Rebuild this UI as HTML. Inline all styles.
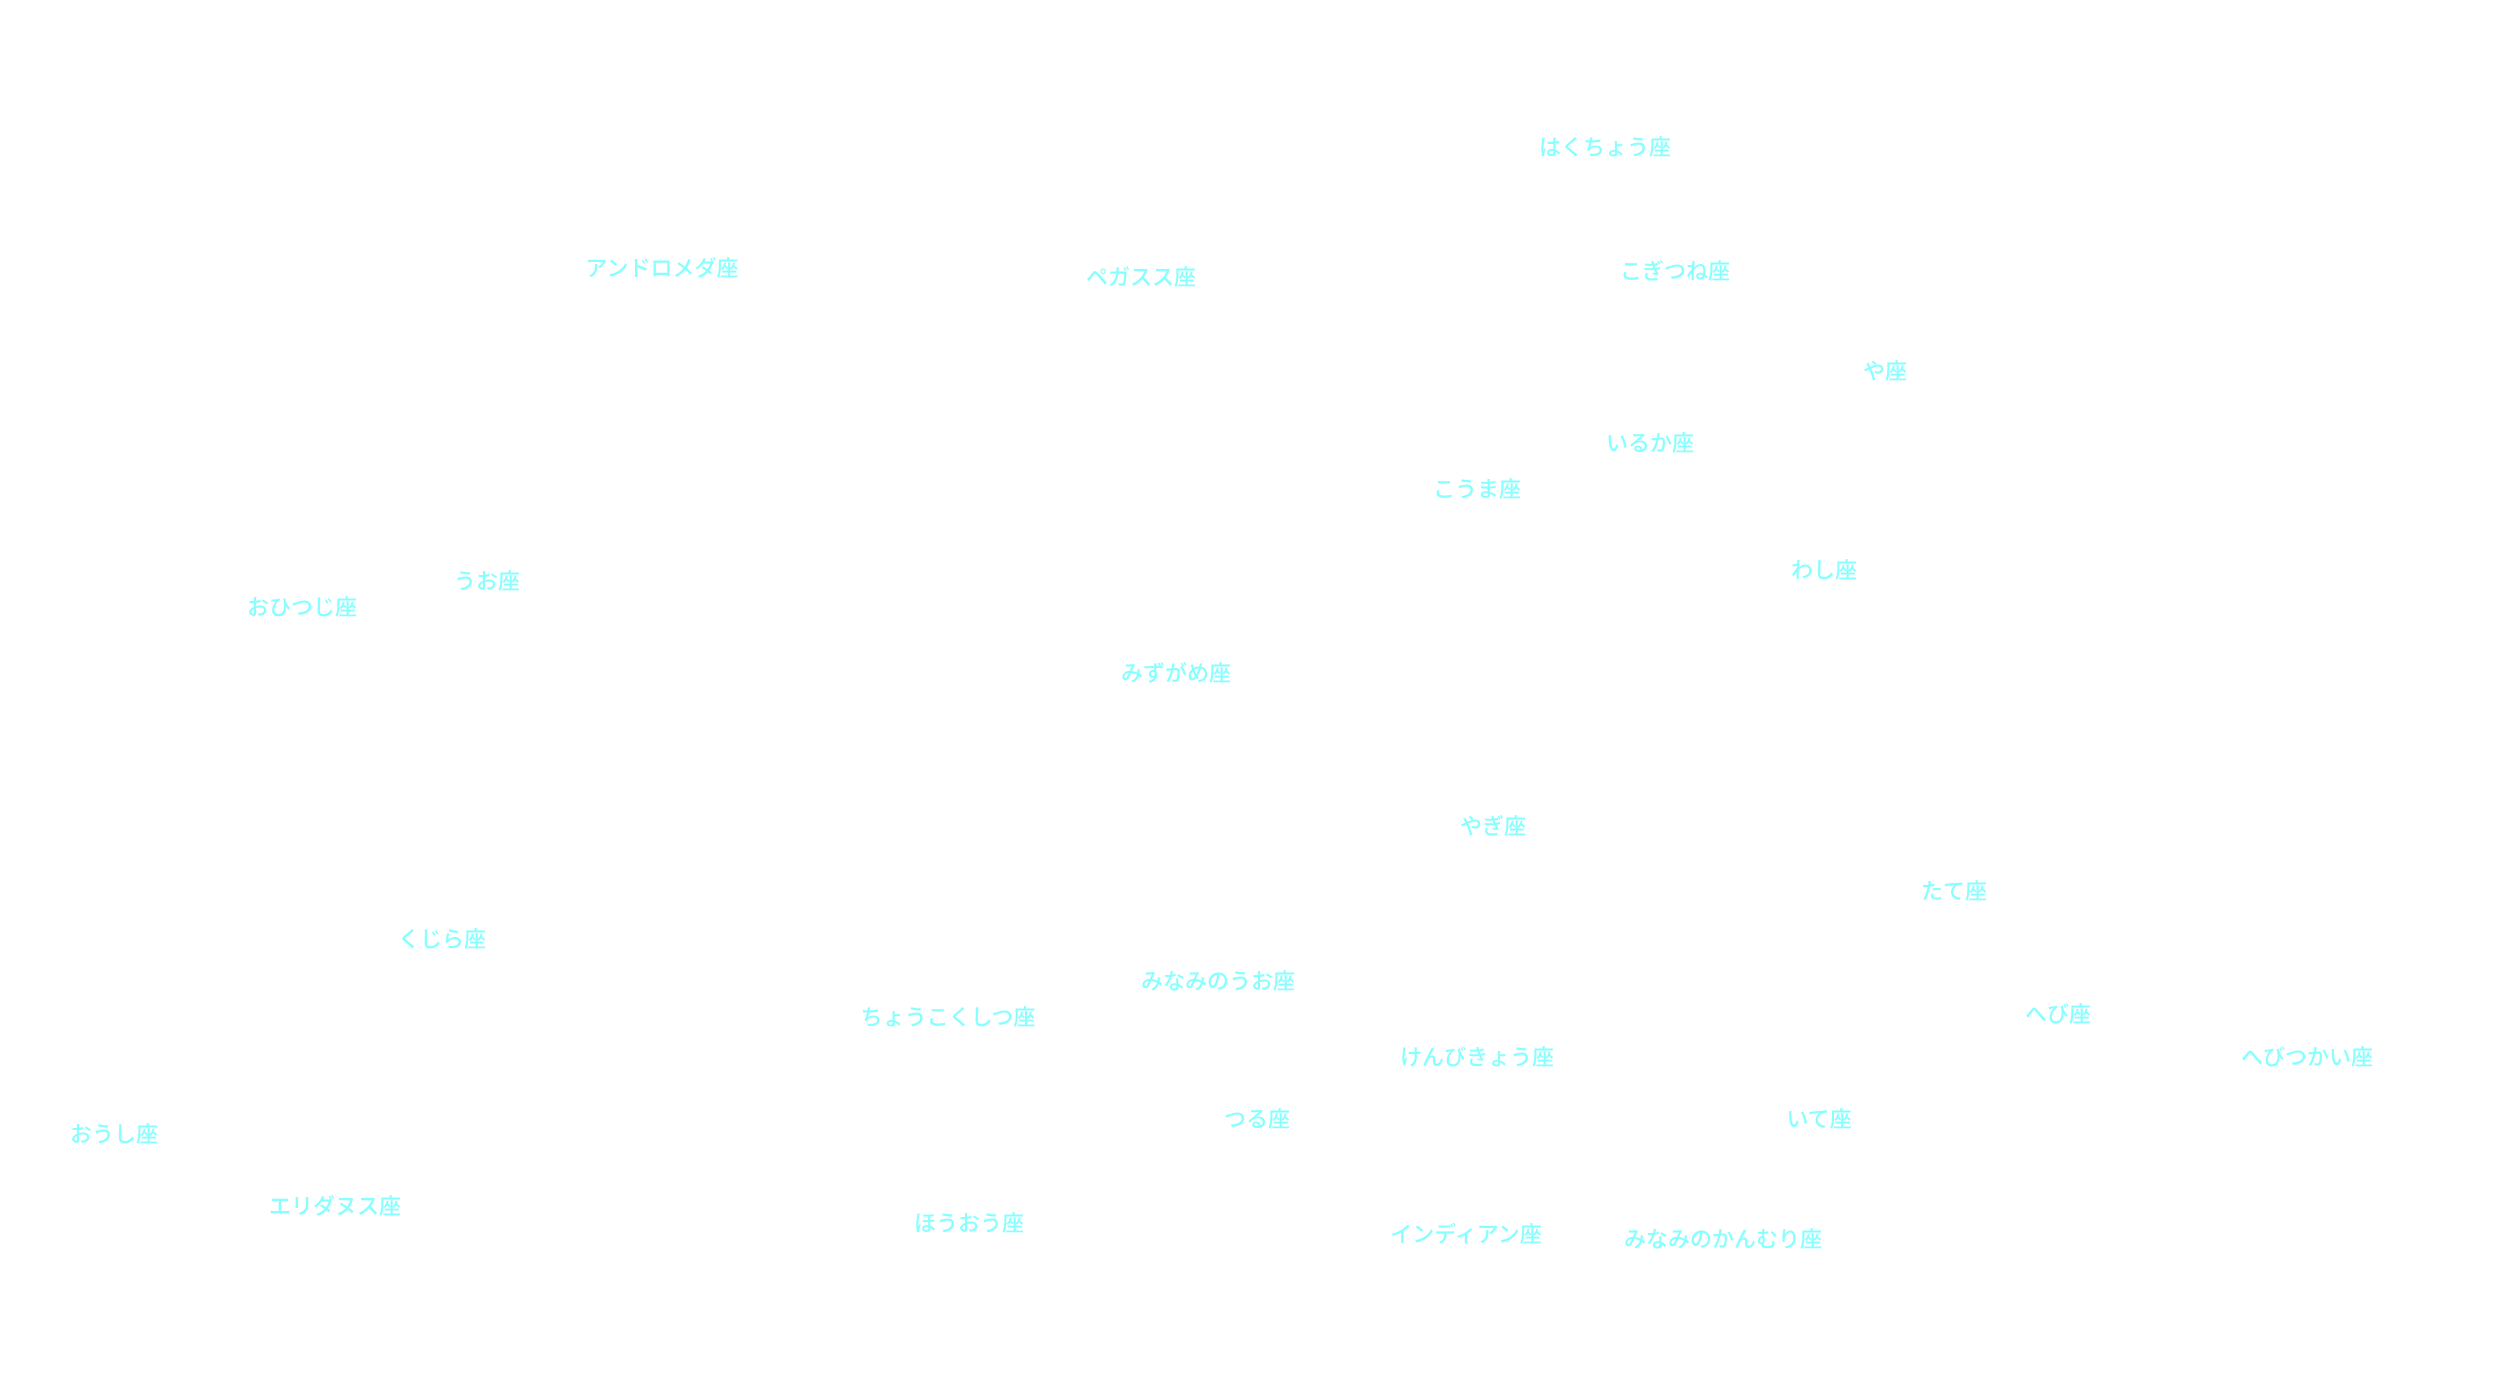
<!DOCTYPE html>
<html><head><meta charset="utf-8"><style>
html,body{margin:0;padding:0;background:#fff;}
#c{position:relative;width:2500px;height:1400px;overflow:hidden;background:#fff;}
#c div{position:absolute;transform:translate(-50%,-50%);white-space:nowrap;color:#88ffff;font-family:"Liberation Sans","Noto Sans CJK JP",sans-serif;font-size:22px;font-weight:500;line-height:1;}
</style></head><body><div id="c">
<div style="left:1605px;top:148px">はくちょう座</div>
<div style="left:662px;top:269px">アンドロメダ座</div>
<div style="left:1141px;top:278px">ペガスス座</div>
<div style="left:1675px;top:272px">こぎつね座</div>
<div style="left:1885px;top:372px">や座</div>
<div style="left:1650px;top:444px">いるか座</div>
<div style="left:1477px;top:490px">こうま座</div>
<div style="left:487px;top:582px">うお座</div>
<div style="left:302px;top:608px">おひつじ座</div>
<div style="left:1824px;top:571px">わし座</div>
<div style="left:1176px;top:674px">みずがめ座</div>
<div style="left:1493px;top:827px">やぎ座</div>
<div style="left:1954px;top:892px">たて座</div>
<div style="left:442px;top:940px">くじら座</div>
<div style="left:1218px;top:982px">みなみのうお座</div>
<div style="left:948px;top:1018px">ちょうこくしつ座</div>
<div style="left:2058px;top:1015px">へび座</div>
<div style="left:2307px;top:1058px">へびつかい座</div>
<div style="left:1477px;top:1058px">けんびきょう座</div>
<div style="left:1257px;top:1120px">つる座</div>
<div style="left:1819px;top:1120px">いて座</div>
<div style="left:114px;top:1135px">おうし座</div>
<div style="left:335px;top:1207px">エリダヌス座</div>
<div style="left:969px;top:1224px">ほうおう座</div>
<div style="left:1466px;top:1235px">インディアン座</div>
<div style="left:1723px;top:1240px">みなみのかんむり座</div>
</div></body></html>
